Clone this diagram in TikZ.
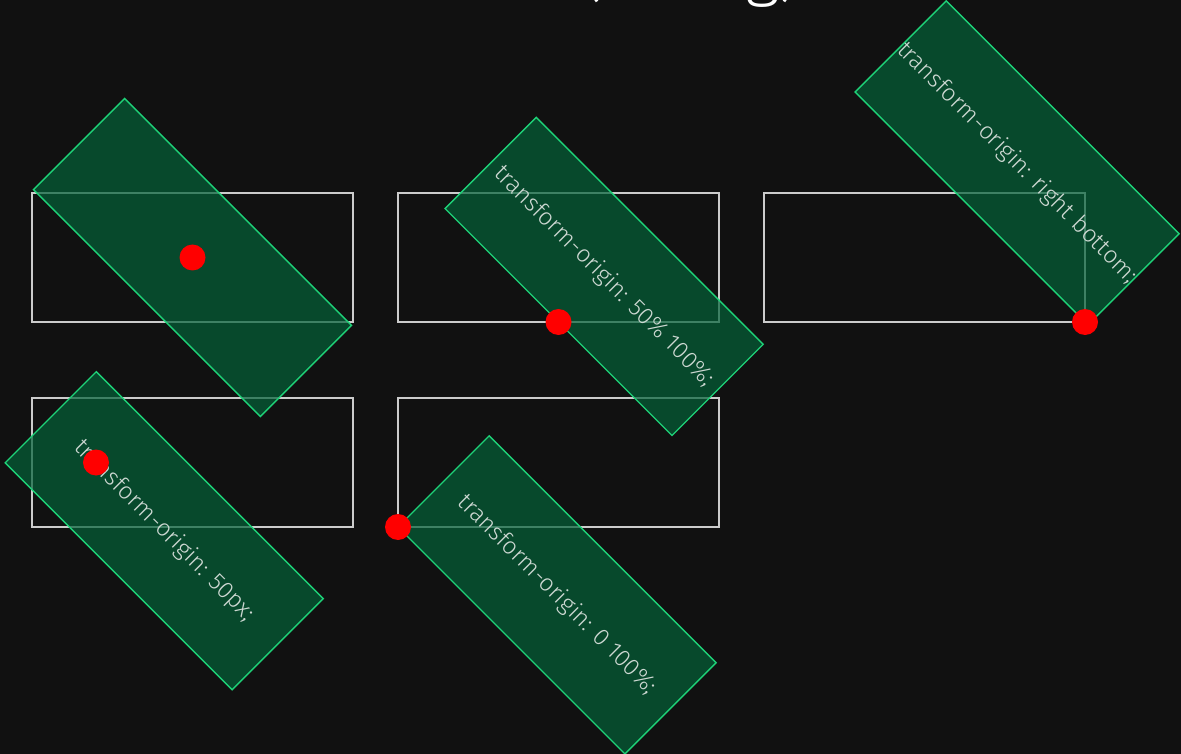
\documentclass[tikz,border=0pt]{standalone}
\usepackage{fontspec}
\newfontfamily\lightsans{Fira Sans}[UprightFont=* Light]
\definecolor{bg}{HTML}{111111}
\definecolor{edge}{HTML}{CCCCCC}
\definecolor{panelfill}{RGB}{3,98,56}
\definecolor{panelline}{RGB}{30,210,120}
\definecolor{labeltext}{RGB}{205,216,210}
\tikzset{
  frame/.style={draw=edge, line width=1.3pt, minimum width=321pt,
    minimum height=129pt, inner sep=0pt, outer sep=0pt},
  panel/.style={draw=panelline, line width=1.4pt, fill=panelfill,
    fill opacity=0.7, text opacity=1, text=labeltext,
    minimum width=321pt, minimum height=129pt, inner sep=0pt,
    transform shape, font=\lightsans\fontsize{24}{29}\selectfont},
  pivot/.style={circle, fill=red, minimum size=26pt, inner sep=0pt},
  heading/.style={text=white, inner sep=0pt,
    font=\lightsans\fontsize{68}{80}\selectfont},
}
\begin{document}
\begin{tikzpicture}[x=1pt,y=-1pt]
  \fill[bg] (0,0) rectangle (1181,754);
  \useasboundingbox (0,0) rectangle (1181,754);
  \clip (0,0) rectangle (1181,754);

  % heading, mostly above the page edge
  \node[heading, anchor=base east] (title) at (802,-6.5) {rotate(45deg)};

  % untransformed element outlines
  \node[frame] (b1) at (192.5,257.5) {};
  \node[frame] (b2) at (558.5,257.5) {};
  \node[frame] (b3) at (924.5,257.5) {};
  \node[frame] (b4) at (192.5,462.5) {};
  \node[frame] (b5) at (558.5,462.5) {};

  % rotated elements, each turned about its own origin
  \begin{scope}[rotate around={-45:(192.5,257.5)}]
    \node[panel] (r1) at (192.5,257.5) {};
  \end{scope}
  \begin{scope}[rotate around={-45:(558.5,322)}]
    \node[panel] (r2) at (558.5,257.5) {transform-origin: 50\% 100\%;};
  \end{scope}
  \begin{scope}[rotate around={-45:(1085,322)}]
    \node[panel] (r3) at (924.5,257.5) {transform-origin: right bottom;};
  \end{scope}
  \begin{scope}[rotate around={-45:(96,462.5)}]
    \node[panel] (r4) at (192.5,462.5) {transform-origin: 50px;};
  \end{scope}
  \begin{scope}[rotate around={-45:(398,527)}]
    \node[panel] (r5) at (558.5,462.5) {transform-origin: 0 100\%;};
  \end{scope}

  % origin markers
  \node[pivot] (p1) at (192.5,257.5) {};
  \node[pivot] (p2) at (558.5,322) {};
  \node[pivot] (p3) at (1085,322) {};
  \node[pivot] (p4) at (96,462.5) {};
  \node[pivot] (p5) at (398,527) {};
\end{tikzpicture}
\end{document}
